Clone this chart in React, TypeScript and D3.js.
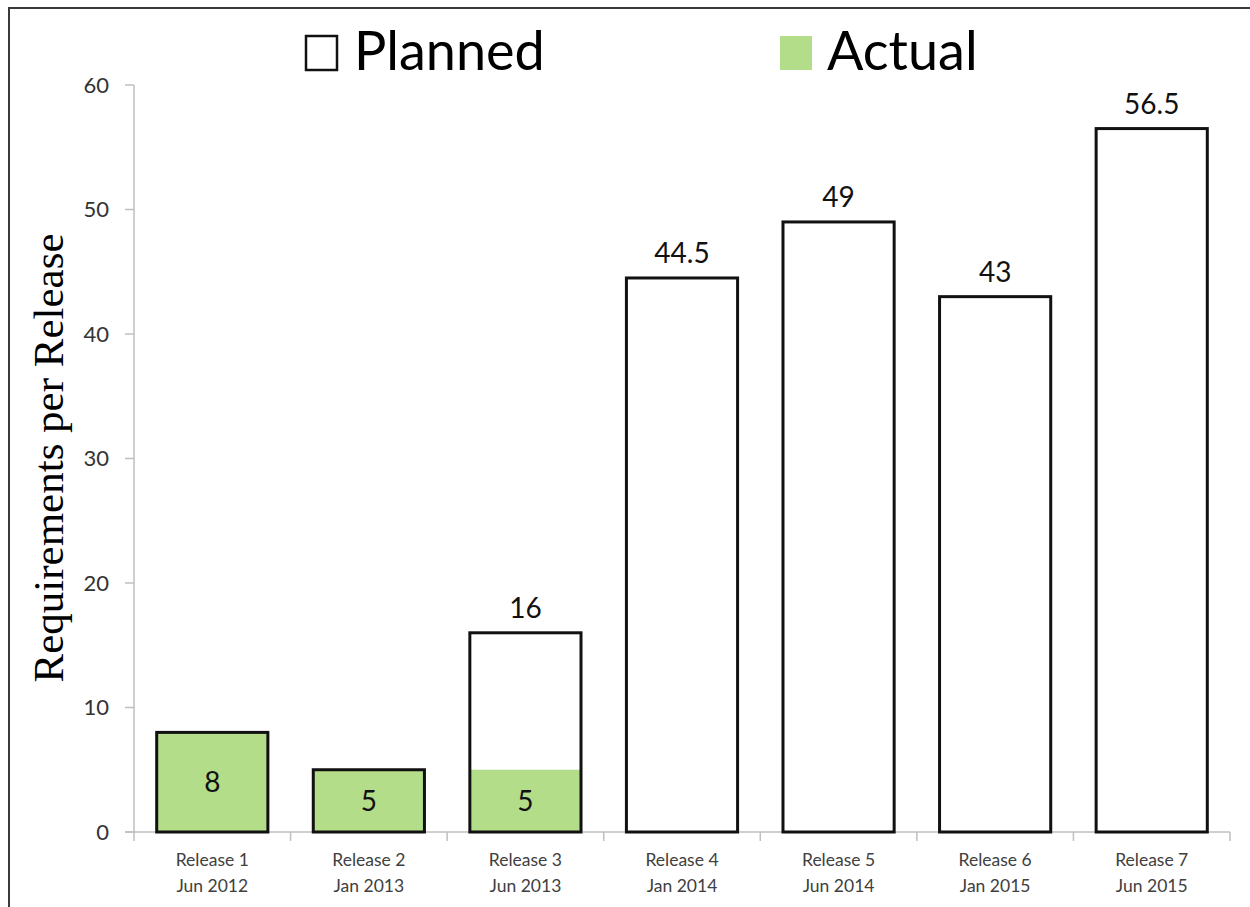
import React from "react";
import * as d3 from "d3";

const categories = ["Release 1|Jun 2012", "Release 2|Jan 2013", "Release 3|Jun 2013", "Release 4|Jan 2014", "Release 5|Jun 2014", "Release 6|Jan 2015", "Release 7|Jun 2015"];
const planned = [8, 5, 16, 44.5, 49, 43, 56.5];
const actual = [8, 5, 5, 0, 0, 0, 0];
const showPlannedLabel = [false, false, true, true, true, true, true];
const yTicks = [0, 10, 20, 30, 40, 50, 60];

const W = 1250, H = 907;
const left = 134, right = 1230, top = 85, bottom = 832;
const GREEN = "#b3dd88";
const FONT = "Lato, 'Open Sans', sans-serif";

export default function App() {
  const x = d3.scaleBand<string>().domain(categories).range([left, right]).paddingInner(0.29).paddingOuter(0.145);
  const y = d3.scaleLinear().domain([0, 60]).range([bottom, top]);
  const step = x.step();
  const boundaries = d3.range(categories.length + 1).map((i) => left + i * step);

  return (
    <svg width={W} height={H} style={{ position: "absolute", left: 0, top: 0, background: "#fff" }}>
      <rect x={9} y={8} width={W} height={H} fill="#fff" stroke="#3a3a3a" strokeWidth={2} />
      {/* y axis */}
      <line x1={left} x2={left} y1={top} y2={bottom} stroke="#bfbfbf" strokeWidth={1.5} />
      {yTicks.map((t) => (
        <g key={t}>
          <line x1={left - 9} x2={left} y1={y(t)} y2={y(t)} stroke="#bfbfbf" strokeWidth={1.5} />
          <text x={left - 25} y={y(t)} dy="0.35em" textAnchor="end" fontFamily={FONT} fontSize={22} fill="#333">{t}</text>
        </g>
      ))}
      {/* x axis */}
      <line x1={left - 9} x2={right} y1={bottom} y2={bottom} stroke="#bfbfbf" strokeWidth={1.5} />
      {boundaries.map((b, i) => (
        <line key={i} x1={b} x2={b} y1={bottom} y2={bottom + 9} stroke="#bfbfbf" strokeWidth={1.5} />
      ))}
      {categories.map((c) => {
        const [l1, l2] = c.split("|");
        const cx = (x(c) as number) + x.bandwidth() / 2;
        return (
          <text key={c} x={cx} textAnchor="middle" fontFamily={FONT} fontSize={17.5} fill="#404040">
            <tspan x={cx} y={866}>{l1}</tspan>
            <tspan x={cx} y={892}>{l2}</tspan>
          </text>
        );
      })}
      {/* actual fill */}
      {categories.map((c, i) => actual[i] > 0 ? (
        <rect key={"a" + c} x={x(c)} y={y(actual[i])} width={x.bandwidth()} height={y(0) - y(actual[i])} fill={GREEN} />
      ) : null)}
      {/* planned outline */}
      {categories.map((c, i) => (
        <rect key={"p" + c} x={x(c)} y={y(planned[i])} width={x.bandwidth()} height={y(0) - y(planned[i])} fill="none" stroke="#111" strokeWidth={3} />
      ))}
      {categories.map((c, i) => actual[i] > 0 ? (
        <text key={"al" + c} x={(x(c) as number) + x.bandwidth() / 2} y={(y(actual[i]) + y(0)) / 2} dy="0.36em" textAnchor="middle" fontFamily={FONT} fontSize={28} fill="#111">{actual[i]}</text>
      ) : null)}
      {categories.map((c, i) => showPlannedLabel[i] ? (
        <text key={"pl" + c} x={(x(c) as number) + x.bandwidth() / 2} y={y(planned[i]) - 15} textAnchor="middle" fontFamily={FONT} fontSize={28} fill="#111">{planned[i]}</text>
      ) : null)}
      {/* y label */}
      <text transform={`translate(63, 458) rotate(-90)`} textAnchor="middle" fontFamily="'Liberation Serif', 'Times New Roman', serif" fontSize={43} fill="#000">Requirements per Release</text>
      {/* legend */}
      <rect x={306} y={36} width={31} height={34} fill="#fff" stroke="#111" strokeWidth={2.5} />
      <text x={354} y={70} fontFamily={FONT} fontSize={54} fill="#000">Planned</text>
      <rect x={780} y={36} width={32} height={34} fill={GREEN} />
      <text x={827} y={70} fontFamily={FONT} fontSize={54} fill="#000">Actual</text>
    </svg>
  );
}
